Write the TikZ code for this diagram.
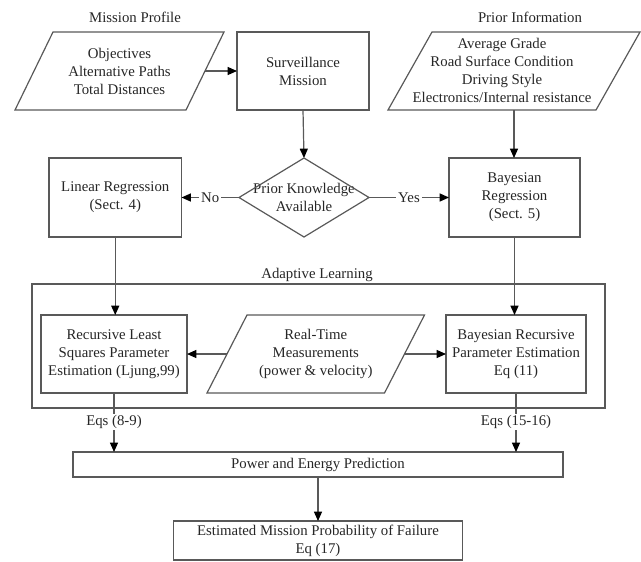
\documentclass[tikz,border=0pt]{standalone}
\usepackage{fontspec}
\setmainfont{Liberation Serif}
\usetikzlibrary{arrows.meta}
\newdimen\pxu \pxu=0.75pt
\begin{document}
\begin{tikzpicture}[x=0.75pt,y=-0.75pt,
  font=\fontsize{11.1pt}{13.5pt}\selectfont,
  every node/.style={text=black!85, inner sep=0pt, outer sep=0pt, align=center},
  ln/.style={draw=black!65, line width=0.9pt},
  arr/.style={ln, -{Triangle[length=7pt,width=6pt,color=black]}},
  boxnode/.style={ln},
  ghost/.style={draw=none},
  lbl/.style={fill=white, inner xsep=1.5pt, inner ysep=1pt}
]
\useasboundingbox (0,0) rectangle (641,561);

% titles
\node (mpt) at (135,17) {Mission Profile};
\node (pit) at (530,17) {Prior Information};

% top row
\node[ghost, minimum width=171\pxu, minimum height=78\pxu] (lp) at (119.5,71) {Objectives\\Alternative Paths\\Total Distances};
\draw[ln] ([xshift=19\pxu]lp.north west) -- ([xshift=19\pxu]lp.north east) -- ([xshift=-19\pxu]lp.south east) -- ([xshift=-19\pxu]lp.south west) -- cycle;

\node[boxnode, minimum width=132\pxu, minimum height=78\pxu] (surv) at (303,71) {Surveillance\\Mission};

\node[ghost, minimum width=208\pxu, minimum height=78\pxu] (rp) at (514,71) {};
\draw[ln] ([xshift=22\pxu]rp.north west) -- ([xshift=22\pxu]rp.north east) -- ([xshift=-22\pxu]rp.south east) -- ([xshift=-22\pxu]rp.south west) -- cycle;
\node (rpt) at (502,70) {Average Grade\\Road Surface Condition\\Driving Style\\Electronics/Internal resistance};

% second row
\node[ghost, minimum width=130\pxu, minimum height=79\pxu] (dia) at (304,197.5) {Prior Knowledge\\Available};
\draw[ln] (dia.north) -- (dia.east) -- (dia.south) -- (dia.west) -- cycle;

\node[boxnode, minimum width=132.5\pxu, minimum height=79\pxu] (lin) at (115.25,197.5) {Linear Regression\\(Sect. 4)};
\node[boxnode, minimum width=131\pxu, minimum height=79\pxu] (bay) at (514.5,197.5) {Bayesian\\Regression\\(Sect. 5)};

% adaptive learning
\node (alt) at (317,275) {Adaptive Learning};
\node[boxnode, minimum width=573\pxu, minimum height=124\pxu] (al) at (318.5,346) {};

\node[boxnode, minimum width=146\pxu, minimum height=78\pxu] (rls) at (114,354) {Recursive Least\\Squares Parameter\\Estimation (Ljung,99)};
\node[ghost, minimum width=177.5\pxu, minimum height=78\pxu] (rt) at (315.75,354) {Real-Time\\Measurements\\(power \& velocity)};
\draw[ln] ([xshift=20\pxu]rt.north west) -- ([xshift=20\pxu]rt.north east) -- ([xshift=-20\pxu]rt.south east) -- ([xshift=-20\pxu]rt.south west) -- cycle;
\node[boxnode, minimum width=140\pxu, minimum height=78\pxu] (brpe) at (516,354) {Bayesian Recursive\\Parameter Estimation\\Eq (11)};

\node[inner sep=1pt] (eq1) at (114,422) {Eqs (8-9)};
\node[inner sep=1pt] (eq2) at (516,422) {Eqs (15-16)};

\node[boxnode, minimum width=490\pxu, minimum height=25\pxu] (pow) at (318,464.5) {Power and Energy Prediction};
\node[boxnode, minimum width=289\pxu, minimum height=39\pxu] (est) at (318,540.5) {Estimated Mission Probability of Failure\\Eq (17)};

% connectors
\draw[arr] (lp.east) -- (surv.west);
\draw[arr] (surv.south) -- (dia.north);
\draw[arr] (rp.south) -- (rp.south |- bay.north);
\draw[arr] (dia.west) -- node[lbl]{No} (lin.east);
\draw[arr] (dia.east) -- node[lbl]{Yes} (bay.west);
\draw[arr] (lin.south) -- (lin.south |- rls.north);
\draw[arr] (bay.south) -- (bay.south |- brpe.north);
\draw[arr] (rt.west) -- (rls.east);
\draw[arr] (rt.east) -- (brpe.west);
\draw[ln] (rls.south) -- (eq1.north);
\draw[ln] (brpe.south) -- (eq2.north);
\draw[arr] (eq1.south) -- (eq1.south |- pow.north);
\draw[arr] (eq2.south) -- (eq2.south |- pow.north);
\draw[arr] (pow.south) -- (est.north);
\end{tikzpicture}
\end{document}
